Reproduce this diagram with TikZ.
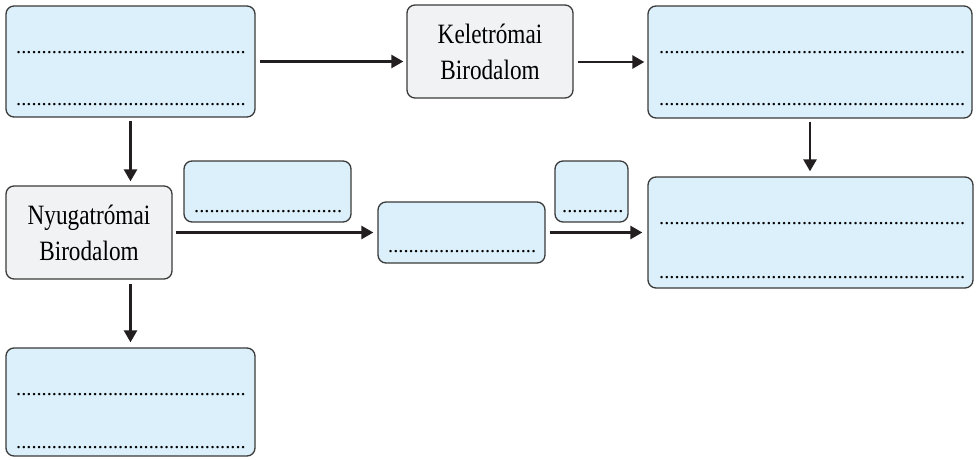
\documentclass[tikz,border=0pt]{standalone}
\usepackage{fontspec}
\setmainfont{Liberation Serif}
\newfontfamily\labelfont[FakeStretch=0.83]{Liberation Serif}
\usetikzlibrary{arrows.meta}
\definecolor{boxblue}{HTML}{DCF0FB}
\definecolor{boxgray}{HTML}{F1F2F4}
\definecolor{edgec}{HTML}{3A3A3A}
\definecolor{arrowc}{HTML}{231F20}
\newcommand\dotrow[1]{\foreach \i in {1,...,#1}{.}}
\tikzset{
  box/.style={draw=edgec, line width=1.3pt, rounded corners=8pt, inner sep=0pt},
  bluebox/.style={box, fill=boxblue},
  graybox/.style={box, fill=boxgray, font=\labelfont\fontsize{28}{36}\selectfont, align=center, text=black},
  dotline/.style={anchor=base west, inner sep=0pt, font=\fontsize{20.4}{20}\selectfont, text=black},
  arr/.style={line width=2.6pt, draw=arrowc, -{Triangle[length=12pt,width=13pt]}}
}
\begin{document}
\begin{tikzpicture}[x=1pt,y=-1pt]
\useasboundingbox (0,0) rectangle (977,460);
% boxes
\node[bluebox, minimum width=249pt, minimum height=111pt] (A) at (130.5,61.5) {};
\node[graybox, minimum width=166pt, minimum height=93pt] (K) at (490,51.5) {Keletrómai\\Birodalom};
\node[bluebox, minimum width=324pt, minimum height=112pt] (B) at (810,62) {};
\node[bluebox, minimum width=325pt, minimum height=111pt] (C) at (810.5,232.5) {};
\node[graybox, minimum width=166pt, minimum height=93pt] (N) at (89,232.5) {Nyugatrómai\\Birodalom};
\node[bluebox, minimum width=249pt, minimum height=108pt] (D) at (130.5,402) {};
\node[bluebox, minimum width=167pt, minimum height=61pt] (S1) at (267.5,191.5) {};
\node[bluebox, minimum width=167pt, minimum height=61pt] (M) at (461.5,232.5) {};
\node[bluebox, minimum width=73pt, minimum height=61pt] (S2) at (591.5,191.5) {};
% dotted answer lines
\node[dotline] (a1) at (16,53) {\dotrow{45}};
\node[dotline] (a2) at (16,105) {\dotrow{45}};
\node[dotline] (b1) at (659,53) {\dotrow{60}};
\node[dotline] (b2) at (659,105) {\dotrow{60}};
\node[dotline] (c1) at (659,224) {\dotrow{60}};
\node[dotline] (c2) at (659,278) {\dotrow{60}};
\node[dotline] (d1) at (16,395.5) {\dotrow{45}};
\node[dotline] (d2) at (16,448.5) {\dotrow{45}};
\node[dotline] (s1) at (194,212) {\dotrow{29}};
\node[dotline] (m1) at (388,252) {\dotrow{29}};
\node[dotline] (s2) at (562,212) {\dotrow{12}};
% arrows
\draw[arr] ([xshift=4pt]A.east) -- ([xshift=-3pt]A.east -| K.west);
\draw[arr] ([xshift=4pt]K.east |- B.west) -- ([xshift=-3pt]B.west);
\draw[arr] ([yshift=-3pt]A.south) -- ([yshift=4pt]A.south |- N.north);
\draw[arr] ([yshift=-4pt]N.south -| D.north) -- ([yshift=5pt]D.north);
\draw[arr] ([yshift=-3pt]B.south) -- ([yshift=5pt]B.south |- C.north);
\draw[arr] ([xshift=3pt]N.east) -- ([xshift=-4pt]M.west);
\draw[arr] ([xshift=4pt]M.east) -- ([xshift=-5pt]C.west);
\end{tikzpicture}
\end{document}
